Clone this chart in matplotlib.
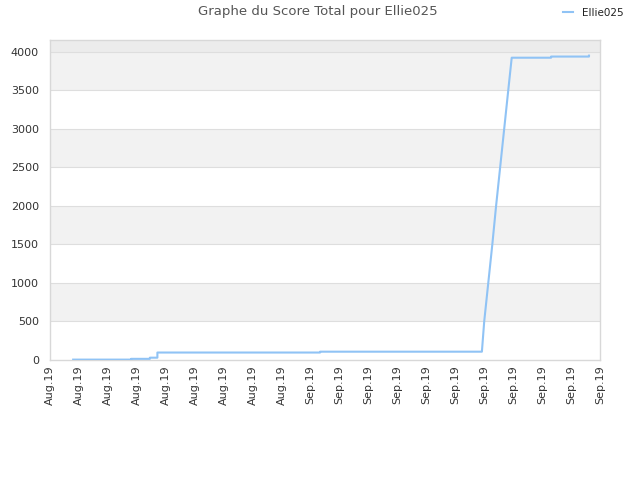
import matplotlib
matplotlib.use("Agg")
import matplotlib.pyplot as plt

# data: breakpoints of the score line (x in tick-index units)
x_vals = [0.80, 2.80, 2.80, 3.45, 3.45, 3.71, 3.71, 9.33, 9.33, 14.92,
          15.00, 15.14, 15.28, 15.41, 15.55, 15.69, 15.83, 15.95,
          17.31, 17.31, 18.62, 18.62]
y_vals = [5, 5, 15, 15, 30, 30, 97, 97, 108, 108,
          500, 1000, 1500, 2000, 2500, 3000, 3500, 3925,
          3925, 3940, 3940, 3952]
tick_labels = ["Aug.19"] * 9 + ["Sep.19"] * 11
series_name = "Ellie025"
title = "Graphe du Score Total pour Ellie025"

fig = plt.figure(figsize=(6.4, 4.8), dpi=100)
ax = fig.add_axes([50/640, 120/480, 550/640, 320/480])

ymax = 4155
bands = list(range(0, 4500, 500))
for i, b in enumerate(bands):
    top = min(b + 500, ymax)
    if b >= 4000:
        col = "#ececec"
    else:
        col = "#f2f2f2" if i % 2 == 1 else "#ffffff"
    ax.axhspan(b, top, color=col, lw=0, zorder=0)
for b in range(500, 4500, 500):
    ax.axhline(b, color="#dedede", lw=0.8, zorder=1)

ax.plot(x_vals, y_vals, color="#90c3f5", lw=1.5, zorder=3,
        label=series_name)

ax.set_xlim(0, len(tick_labels) - 1)
ax.set_ylim(0, ymax)
ax.set_xticks(range(len(tick_labels)))
ax.set_xticklabels(tick_labels, rotation=90, fontsize=8, color="#333333")
ax.set_yticks(range(0, 4500, 500))
ax.tick_params(axis="y", labelsize=8, labelcolor="#333333", length=0, pad=8)
ax.tick_params(axis="x", length=0, pad=4)
for s in ax.spines.values():
    s.set_color("#d8d8d8")
    s.set_linewidth(1)

fig.text(318/640, 1 - 12/480, title, ha="center", va="center",
         fontsize=9.5, color="#555555")
leg = fig.legend(handles=ax.get_lines()[-1:], loc="center",
                 bbox_to_anchor=(593/640, 1 - 13/480), frameon=False,
                 fontsize=7.5, handlelength=1.0, handletextpad=0.8)
for t in leg.get_texts():
    t.set_color("#222222")

fig.savefig("out.png", dpi=100)
